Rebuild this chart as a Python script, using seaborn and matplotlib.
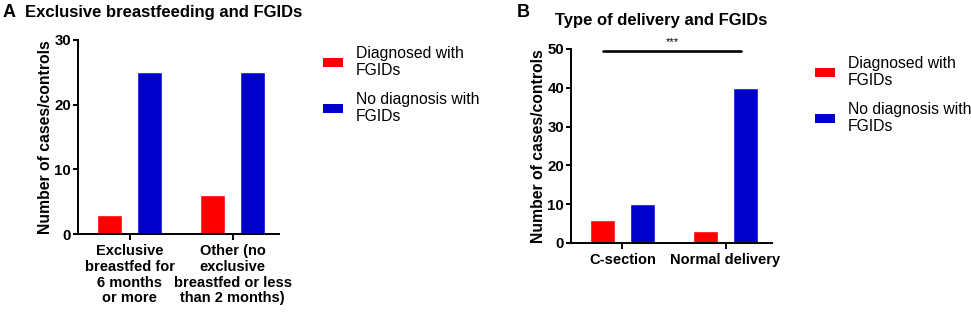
import matplotlib
matplotlib.use("Agg")
import matplotlib.pyplot as plt
import seaborn as sns
import pandas as pd
from matplotlib.patches import Patch

# data
groups = ["Diagnosed with\nFGIDs", "No diagnosis with\nFGIDs"]
colors = ["#FF0000", "#0000CC"]

bf_categories = ["Exclusive\nbreastfed for\n6 months\nor more",
                 "Other (no\nexclusive\nbreastfed or less\nthan 2 months)"]
bf_diagnosed = [3, 6]
bf_no_diag = [25, 25]

del_categories = ["C-section", "Normal delivery"]
del_diagnosed = [6, 3]
del_no_diag = [10, 40]

sns.set_style("ticks")
plt.rcParams["font.family"] = ["Liberation Sans", "DejaVu Sans"]
for k in ["text.color", "axes.labelcolor", "xtick.color", "ytick.color", "axes.edgecolor"]:
    plt.rcParams[k] = "black"


def make_df(cats, diag, nodiag):
    rows = []
    for c, a, b in zip(cats, diag, nodiag):
        rows.append({"cat": c, "group": groups[0], "n": a})
        rows.append({"cat": c, "group": groups[1], "n": b})
    return pd.DataFrame(rows)


def draw_panel(ax, df, cats, ymax, step):
    sns.barplot(data=df, x="cat", y="n", hue="group", order=cats,
                hue_order=groups, palette=colors, width=0.78, gap=0.385,
                saturation=1, ax=ax, legend=False)
    ax.set_ylim(0, ymax)
    ax.set_yticks(range(0, ymax + 1, step))
    ax.set_xlim(-0.5, 1.45)
    sns.despine(ax=ax)
    for s in ["left", "bottom"]:
        ax.spines[s].set_linewidth(1.4)
    ax.tick_params(axis="y", width=1.4, length=3.5, pad=1.5, labelsize=10.8)
    ax.tick_params(axis="x", width=1.4, length=4.5, pad=3, labelsize=10.5)
    for lab in ax.get_xticklabels() + ax.get_yticklabels():
        lab.set_fontweight("bold")
        lab.set_linespacing(1.15)
    ax.set_xlabel("")
    ax.set_ylabel("Number of cases/controls", fontsize=11.3, fontweight="bold")
    ax.yaxis.set_label_coords(-0.125, 0.5)


fig = plt.figure(figsize=(9.71, 3.12), dpi=100)
axA = fig.add_axes([0.0803, 0.25, 0.207, 0.6218])
axB = fig.add_axes([0.588, 0.2212, 0.207, 0.6218])

draw_panel(axA, make_df(bf_categories, bf_diagnosed, bf_no_diag), bf_categories, 30, 10)
draw_panel(axB, make_df(del_categories, del_diagnosed, del_no_diag), del_categories, 50, 10)

# significance bar
axB.plot([-0.19, 1.15], [49.4, 49.4], color="black", lw=1.9, clip_on=False)
axB.text(0.48, 51.9, "***", ha="center", va="center", fontsize=8)

# titles
fig.text(3 / 971, 1 - 17 / 312, "A", fontsize=13, fontweight="bold", va="baseline")
fig.text(25 / 971, 1 - 17 / 312, "Exclusive breastfeeding and FGIDs", fontsize=12,
         fontweight="bold", va="baseline")
fig.text(517 / 971, 1 - 17 / 312, "B", fontsize=13, fontweight="bold", va="baseline")
fig.text(555 / 971, 1 - 25 / 312, "Type of delivery and FGIDs", fontsize=12,
         fontweight="bold", va="baseline")

# legends
handles = [Patch(facecolor=c, edgecolor="none") for c in colors]
for anchor in [(323 / 971, 1 - 46 / 312), (815 / 971, 1 - 56 / 312)]:
    fig.legend(handles, groups, loc="upper left", bbox_to_anchor=anchor,
               frameon=False, fontsize=11.3, borderpad=0, borderaxespad=0,
               handlelength=1.3, handleheight=0.55, handletextpad=0.8,
               labelspacing=0.85)

fig.savefig("out.png", dpi=100)
